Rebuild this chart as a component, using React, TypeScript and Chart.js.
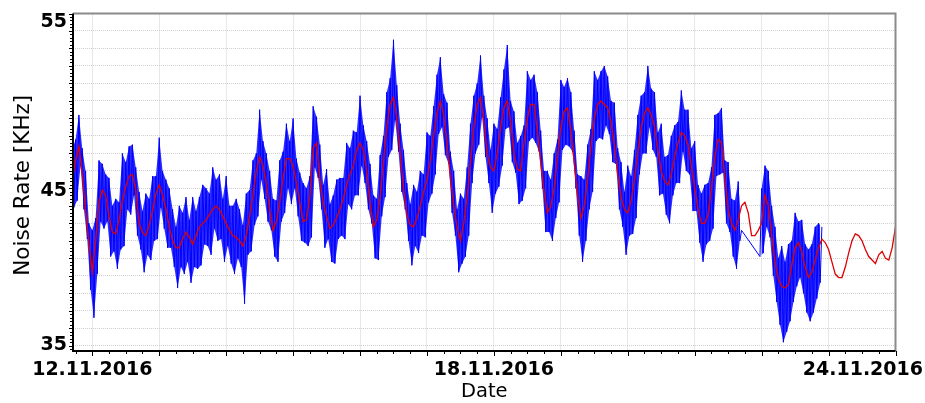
import { useEffect, useRef } from 'react';
import { Chart, registerables } from 'chart.js';

Chart.register(...registerables);

// x values are days after 12.11.2016 00:00
const X_MIN = -0.288;
const X_MAX = 12;
const Y_MIN = 35.7;
const Y_MAX = 55;

const dateTickDays = [0, 6, 12];
const dateTickLabels = ['12.11.2016', '18.11.2016', '24.11.2016'];
const valueTickValues = [55, 45, 35.7];
const valueTickLabels = ['55', '45', '35'];

const SAMPLE_STEP = 0.05;

// smoothed series (red), one value per 0.05 day starting at -0.3
const RED_START = -0.3;
const redValues = [
  45.4, 46.6, 47.4, 45.8, 43.8, 41.8, 40.2, 42.0, 44.2, 44.9,
  44.6, 43.4, 42.5, 42.4, 43.2, 44.3, 45.1, 45.7, 45.8, 44.9,
  43.0, 42.5, 42.3, 42.9, 43.7, 44.7, 45.2, 44.6, 43.8, 42.8,
  42.0, 41.6, 41.6, 42.1, 42.5, 42.2, 41.8, 42.3, 42.8, 43.0,
  43.2, 43.5, 43.8, 44.0, 43.8, 43.4, 43.0, 42.6, 42.3, 42.2,
  42.0, 41.7, 42.3, 43.4, 44.6, 46.0, 46.8, 46.3, 45.3, 43.8,
  42.6, 43.1, 44.2, 45.6, 46.7, 46.7, 46.3, 45.3, 44.2, 43.1,
  43.2, 44.5, 47.3, 47.6, 45.5, 44.2, 43.4, 42.7, 42.9, 43.3,
  43.8, 44.4, 45.2, 45.8, 46.3, 47.2, 47.6, 47.2, 46.0, 44.2,
  42.8, 43.2, 44.5, 46.5, 48.5, 49.8, 50.2, 49.0, 47.0, 45.0,
  43.5, 42.9, 42.8, 43.3, 44.0, 44.8, 45.5, 46.6, 48.0, 49.3,
  50.0, 49.2, 47.5, 45.6, 44.0, 42.8, 42.0, 43.0, 44.5, 46.5,
  48.5, 49.8, 50.2, 48.8, 47.0, 46.2, 46.0, 47.0, 48.5, 49.6,
  50.0, 48.8, 47.0, 46.1, 46.0, 47.6, 49.0, 49.8, 49.8, 48.3,
  46.5, 44.8, 43.6, 44.0, 45.0, 46.8, 48.5, 49.4, 49.6, 48.3,
  46.5, 44.6, 43.3, 44.0, 45.5, 47.4, 49.0, 49.8, 50.0, 49.8,
  49.6, 48.8, 47.5, 45.8, 44.5, 43.8, 43.6, 44.3, 45.5, 47.0,
  48.5, 49.3, 49.6, 49.2, 48.5, 47.2, 46.0, 45.4, 45.2, 45.8,
  46.8, 47.6, 48.2, 48.0, 47.5, 46.3, 45.0, 43.8, 43.0, 43.0,
  43.5, 45.0, 46.8, 47.8, 47.6, 45.6, 43.8, 43.0, 42.6, 43.2,
  44.0, 44.2, 43.6, 42.3, 42.3, 42.6, 43.0, 44.6, 44.0, 42.3,
  40.8, 39.8, 39.4, 39.3, 39.5, 40.6, 41.6, 41.9, 41.4, 40.5,
  39.9, 40.2, 40.9, 41.6, 42.1, 41.9, 41.5, 40.8, 40.1, 39.9,
  39.9, 40.5, 41.3, 42.0, 42.4, 42.3, 42.0, 41.5, 41.1, 40.9,
  40.7, 41.2, 41.4, 41.0, 40.9, 41.6, 42.8,
];

// raw series (blue): per 0.05 day a high sample and, half a step later, a low sample
const BLUE_START = -0.3;
const blueHigh: (number | null)[] = [
  47.2, 47.8, 49.2, 47.3, 46.0, 43.0, 42.6, 43.3, 46.6, 46.4,
  45.8, 45.6, 44.0, 44.4, 44.2, 47.0, 46.5, 47.4, 47.5, 46.2,
  44.8, 43.7, 44.7, 44.4, 45.7, 45.7, 47.9, 46.0, 45.5, 45.0,
  43.8, 42.8, 44.0, 43.6, 44.5, 43.2, 44.5, 43.7, 44.5, 45.2,
  45.0, 44.7, 46.2, 45.5, 45.8, 44.4, 45.7, 44.0, 44.0, 44.4,
  43.8, 42.9, 44.7, 44.9, 46.6, 47.0, 49.5, 47.7, 47.0, 46.0,
  44.4, 44.3, 46.6, 47.1, 48.7, 47.7, 49.0, 46.7, 45.9, 45.3,
  45.0, 45.7, 49.7, 49.1, 47.5, 45.2, 46.1, 44.1, 44.6, 45.5,
  45.6, 45.6, 47.6, 47.3, 48.3, 48.2, 50.3, 48.6, 47.7, 46.4,
  44.6, 44.4, 46.9, 48.0, 50.5, 51.3, 53.5, 50.9, 48.7, 47.2,
  45.3, 44.1, 45.2, 44.8, 46.0, 45.8, 48.2, 48.0, 49.7, 51.5,
  52.5, 50.4, 49.9, 47.1, 46.0, 43.8, 44.7, 44.4, 46.2, 48.7,
  50.3, 51.0, 52.6, 50.3, 49.0, 47.2, 48.7, 48.4, 50.2, 51.8,
  53.2, 50.0, 49.4, 47.6, 48.0, 48.6, 51.7, 51.2, 51.5, 50.5,
  48.3, 46.0, 46.0, 45.5, 47.0, 47.8, 51.2, 50.8, 51.3, 50.5,
  48.3, 45.8, 45.7, 45.5, 47.5, 48.4, 51.7, 51.2, 51.7, 52.0,
  51.4, 50.0, 49.9, 47.3, 46.5, 44.8, 46.3, 45.7, 47.2, 49.2,
  50.3, 50.5, 52.0, 50.7, 50.5, 48.2, 48.7, 46.8, 46.9, 48.0,
  48.6, 48.8, 50.6, 49.5, 49.5, 47.3, 47.7, 45.2, 44.7, 45.2,
  45.3, 46.2, 49.2, 49.3, 49.6, 46.6, 46.5, 44.4, 44.3, 45.4,
  42.6, null, null, null, null, null, 45.0, 46.3, 46.0, 44.0,
  42.8, 41.0, 41.7, 40.8, 41.8, 42.0, 43.6, 43.1, 43.2, 41.8,
  41.5, 41.8, 42.8, 43.0, 42.8,
];
const blueLow: (number | null)[] = [
  43.9, 44.3, 46.3, 43.8, 42.1, 39.2, 37.6, 40.1, 43.1, 42.7,
  43.1, 41.1, 41.4, 40.4, 41.5, 41.7, 43.8, 43.5, 44.6, 42.3,
  41.5, 40.2, 41.2, 40.9, 42.0, 42.1, 43.9, 42.7, 41.6, 41.6,
  40.5, 39.3, 40.5, 40.1, 40.8, 39.6, 40.5, 40.4, 40.6, 41.8,
  41.7, 41.2, 42.7, 42.0, 42.1, 40.8, 41.7, 40.7, 40.1, 41.0,
  40.5, 38.4, 41.2, 41.4, 42.9, 43.4, 45.5, 44.4, 43.1, 42.6,
  41.1, 40.8, 43.1, 43.6, 45.0, 44.1, 45.0, 43.4, 42.0, 41.9,
  41.7, 42.2, 46.2, 45.6, 43.8, 41.6, 42.1, 40.8, 40.7, 42.1,
  42.3, 42.1, 44.1, 43.8, 44.6, 44.6, 46.3, 45.3, 43.8, 43.0,
  41.0, 40.9, 43.4, 44.5, 46.8, 47.2, 48.9, 47.1, 44.8, 43.8,
  42.0, 40.6, 41.7, 41.3, 42.3, 42.2, 44.2, 44.7, 45.8, 48.1,
  48.5, 46.9, 46.4, 43.6, 42.3, 40.2, 40.7, 41.1, 42.3, 45.3,
  47.0, 47.5, 49.1, 46.8, 45.3, 43.6, 44.7, 45.1, 46.3, 48.4,
  48.5, 46.5, 45.9, 44.1, 44.3, 45.0, 47.7, 47.9, 47.6, 47.1,
  45.0, 42.5, 42.5, 42.0, 43.3, 44.2, 47.2, 47.5, 47.4, 47.1,
  45.0, 42.3, 40.8, 42.0, 43.8, 44.8, 47.7, 47.9, 47.8, 48.6,
  48.1, 46.5, 46.4, 43.8, 42.8, 41.2, 42.3, 42.4, 43.3, 45.8,
  47.0, 47.0, 48.5, 47.2, 46.8, 44.6, 44.7, 43.5, 43.0, 44.6,
  45.3, 45.3, 47.1, 46.0, 45.8, 43.7, 43.7, 41.9, 40.8, 41.8,
  42.0, 42.7, 45.7, 45.8, 45.9, 43.0, 42.5, 41.1, 40.4, 42.0,
  null, null, null, null, null, 41.1, 41.3, 42.8, 42.2, 40.0,
  38.5, 37.2, 36.2, 36.8, 37.4, 38.5, 39.4, 39.9, 39.0, 37.9,
  37.4, 37.9, 38.7, 39.6, null,
];
// recording gap in the raw series (days)
const BLUE_GAP_FROM = 9.72;
const BLUE_GAP_TO = 9.94;

type Pt = { x: number; y: number };
const redPoints: Pt[] = redValues.map((v, i) => ({ x: RED_START + i * SAMPLE_STEP, y: v }));
const highPts: Pt[] = [];
const lowPts: Pt[] = [];
const bluePoints: Pt[] = [];
blueHigh.forEach((hi, i) => {
  const d = BLUE_START + i * SAMPLE_STEP;
  const lo = blueLow[i];
  if (hi !== null) {
    highPts.push({ x: d, y: hi });
    bluePoints.push({ x: d, y: hi });
  }
  if (lo !== null) {
    lowPts.push({ x: d + SAMPLE_STEP / 2, y: lo });
    bluePoints.push({ x: d + SAMPLE_STEP / 2, y: lo });
  }
});
const before = (p: Pt) => p.x < BLUE_GAP_FROM;
const after = (p: Pt) => p.x > BLUE_GAP_TO;

const FONT = '"DejaVu Sans", Verdana, sans-serif';

const framePlugin = {
  id: 'frame',
  afterDraw(chart: any) {
    const { ctx, chartArea: a, scales } = chart;
    const xs = scales.x;
    const ys = scales.y;
    ctx.save();
    ctx.strokeStyle = '#8a8a8a';
    ctx.lineWidth = 2;
    ctx.beginPath();
    ctx.moveTo(a.left, a.top);
    ctx.lineTo(a.right, a.top);
    ctx.lineTo(a.right, a.bottom);
    ctx.stroke();
    ctx.strokeStyle = '#000';
    ctx.lineWidth = 1;
    ctx.beginPath();
    for (let k = Math.ceil(ys.min * 5); k <= Math.floor(ys.max * 5); k++) {
      const py = Math.round(ys.getPixelForValue(k / 5)) + 0.5;
      const len = k % 5 === 0 ? 4 : 3;
      ctx.moveTo(a.left - len, py);
      ctx.lineTo(a.left, py);
    }
    for (let k = Math.ceil(xs.min * 4); k <= Math.floor(xs.max * 4); k++) {
      const px = Math.round(xs.getPixelForValue(k / 4)) + 0.5;
      const len = k % 4 === 0 ? 5 : 3;
      ctx.moveTo(px, a.bottom);
      ctx.lineTo(px, a.bottom + len);
    }
    ctx.stroke();
    ctx.lineWidth = 2;
    ctx.beginPath();
    ctx.moveTo(a.left, a.top);
    ctx.lineTo(a.left, a.bottom);
    ctx.lineTo(a.right, a.bottom);
    ctx.stroke();

    ctx.fillStyle = '#000';
    ctx.font = `bold 19px ${FONT}`;
    ctx.textBaseline = 'alphabetic';
    ctx.textAlign = 'right';
    valueTickValues.forEach((v, i) => {
      const py = ys.getPixelForValue(v);
      const base = Math.min(Math.max(py + 7.5, a.top + 13), a.bottom - 1);
      ctx.fillText(valueTickLabels[i], a.left - 6, base);
    });
    ctx.textAlign = 'left';
    dateTickDays.forEach((d, i) => {
      const label = dateTickLabels[i];
      const w = ctx.measureText(label).width;
      let left = xs.getPixelForValue(d) - w / 2;
      left = Math.min(left, chart.width - 2 - w);
      left = Math.max(left, 2);
      ctx.fillText(label, left, a.bottom + 24);
    });
    ctx.font = `19.5px ${FONT}`;
    ctx.textAlign = 'center';
    ctx.fillText('Date', (a.left + a.right) / 2, a.bottom + 46);
    ctx.translate(28.5, (a.top + a.bottom) / 2 + 3);
    ctx.rotate(-Math.PI / 2);
    ctx.font = `21.5px ${FONT}`;
    ctx.fillText('Noise Rate [KHz]', 0, 0);
    ctx.restore();
  },
};

const envelope = (data: Pt[], fill: any) => ({
  data,
  borderColor: 'transparent',
  borderWidth: 1,
  backgroundColor: 'rgba(0,0,255,0.82)',
  pointRadius: 0,
  tension: 0,
  fill,
});

export default function App() {
  const ref = useRef<HTMLCanvasElement>(null);
  useEffect(() => {
    const chart = new Chart(ref.current as HTMLCanvasElement, {
      type: 'line',
      data: {
        datasets: [
          {
            label: 'smoothed',
            data: redPoints,
            borderColor: '#e00000',
            borderWidth: 1.3,
            pointRadius: 0,
            tension: 0,
            fill: false,
          },
          {
            label: 'raw',
            data: bluePoints,
            borderColor: '#0000ff',
            borderWidth: 1,
            pointRadius: 0,
            tension: 0,
            fill: false,
          },
          envelope(highPts.filter(before), false),
          envelope(lowPts.filter(before), '-1'),
          envelope(highPts.filter(after), false),
          envelope(lowPts.filter(after), '-1'),
        ],
      },
      options: {
        animation: false,
        responsive: true,
        maintainAspectRatio: false,
        parsing: false,
        events: [],
        layout: { padding: { left: 73, right: 29.5, top: 13.5, bottom: 52 } },
        plugins: { legend: { display: false }, tooltip: { enabled: false }, title: { display: false } },
        scales: {
          x: {
            type: 'linear',
            min: X_MIN,
            max: X_MAX,
            afterBuildTicks: (s: any) => {
              const t = [];
              for (let d = 0; d <= X_MAX; d++) t.push({ value: d });
              s.ticks = t;
            },
            ticks: { display: false },
            grid: { color: '#cfcfcf', lineWidth: 1, drawTicks: false },
            border: { display: false, dash: [1, 1] },
          },
          y: {
            type: 'linear',
            min: Y_MIN,
            max: Y_MAX,
            afterBuildTicks: (s: any) => {
              const t = [];
              for (let v = Math.ceil(Y_MIN); v <= Y_MAX; v++) t.push({ value: v });
              s.ticks = t;
            },
            ticks: { display: false },
            grid: { color: '#cfcfcf', lineWidth: 1, drawTicks: false },
            border: { display: false, dash: [1, 1] },
          },
        },
      },
      plugins: [framePlugin],
    });
    return () => chart.destroy();
  }, []);
  return (
    <div style={{ position: 'fixed', left: 0, top: 0, width: 925, height: 403, background: '#fff' }}>
      <canvas ref={ref} />
    </div>
  );
}
